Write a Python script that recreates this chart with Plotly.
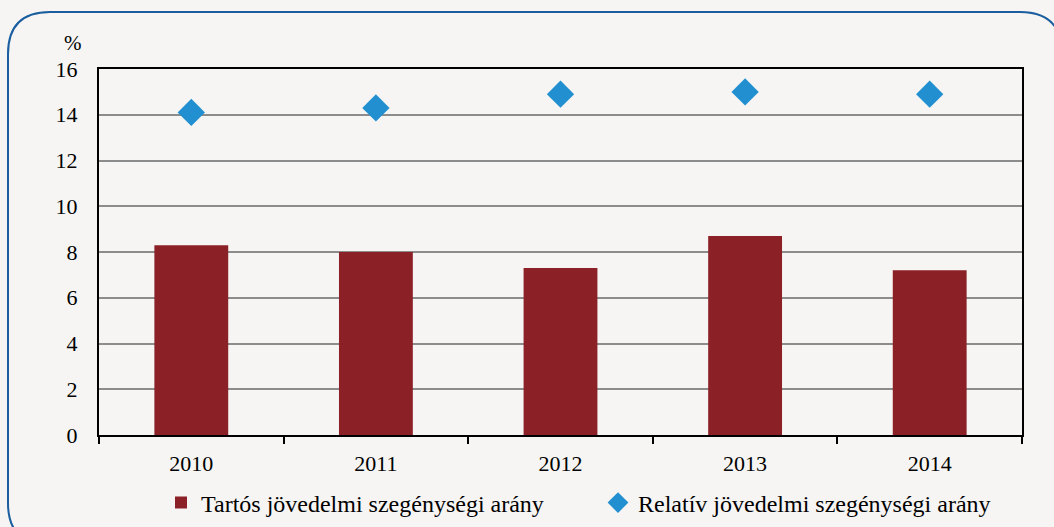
import plotly.graph_objects as go

# données
annees = ["2010", "2011", "2012", "2013", "2014"]
tartos = [8.3, 8.0, 7.3, 8.7, 7.2]
relativ = [14.1, 14.3, 14.9, 15.0, 14.9]
y_ticks = [0, 2, 4, 6, 8, 10, 12, 14, 16]

FOND = "#F6F5F3"
BORDEAUX = "#8B2126"
BLEU = "#2290D0"
POLICE = "Liberation Serif"

W, H = 1054, 527
ML, MR, MT, MB = 99, 32, 69, 92


def px_vers_paper(x, y):
    """Pixels de la page -> coordonnées paper de la zone de tracé."""
    xp = (x - ML) / (W - ML - MR)
    yp = (H - MB - y) / (H - MT - MB)
    return xp, yp


def cadre_arrondi(x0, y0, x1, y1, r):
    pts = [
        ("M", [(x0 + r, y0)]),
        ("L", [(x1 - r, y0)]),
        ("Q", [(x1, y0), (x1, y0 + r)]),
        ("L", [(x1, y1 - r)]),
        ("Q", [(x1, y1), (x1 - r, y1)]),
        ("L", [(x0 + r, y1)]),
        ("Q", [(x0, y1), (x0, y1 - r)]),
        ("L", [(x0, y0 + r)]),
        ("Q", [(x0, y0), (x0 + r, y0)]),
    ]
    morceaux = []
    for cmd, coords in pts:
        txt = " ".join(
            "{:.5f},{:.5f}".format(*px_vers_paper(x, y)) for x, y in coords
        )
        morceaux.append(f"{cmd} {txt}")
    return " ".join(morceaux) + " Z"


fig = go.Figure()

fig.add_trace(
    go.Bar(
        x=annees,
        y=tartos,
        name="Tartós jövedelmi szegénységi arány",
        marker=dict(color=BORDEAUX, line=dict(width=0)),
    )
)
fig.add_trace(
    go.Scatter(
        x=annees,
        y=relativ,
        mode="markers",
        name="Relatív jövedelmi szegénységi arány",
        marker=dict(symbol="diamond", size=21, color=BLEU),
    )
)

fig.add_shape(
    type="path",
    xref="paper",
    yref="paper",
    path=cadre_arrondi(8, 12, 1062, 545, 42),
    line=dict(color="#1A5E9F", width=2),
    layer="below",
)

fig.add_annotation(
    text="%",
    xref="paper",
    yref="paper",
    x=px_vers_paper(73, 0)[0],
    y=px_vers_paper(0, 43)[1],
    xanchor="center",
    yanchor="middle",
    showarrow=False,
    font=dict(family=POLICE, size=21, color="#000000"),
)

fig.update_layout(
    width=W,
    height=H,
    paper_bgcolor=FOND,
    plot_bgcolor=FOND,
    margin=dict(l=ML, r=MR, t=MT, b=MB, autoexpand=False),
    font=dict(family=POLICE, size=22, color="#000000"),
    bargap=0.6,
    showlegend=True,
    legend=dict(
        orientation="h",
        xref="container",
        yref="container",
        x=161 / W,
        xanchor="left",
        y=(H - 503) / H,
        yanchor="middle",
        bgcolor="rgba(0,0,0,0)",
        font=dict(family=POLICE, size=24, color="#000000"),
        itemwidth=30,
        entrywidth=392,
        tracegroupgap=0,
    ),
)

fig.update_xaxes(
    type="category",
    showline=True,
    linecolor="#000000",
    linewidth=2,
    mirror=True,
    ticks="outside",
    tickson="boundaries",
    ticklen=7,
    tickcolor="#000000",
    tickwidth=2,
    ticklabelstandoff=8,
    showgrid=False,
    automargin=False,
    tickfont=dict(family=POLICE, size=22, color="#000000"),
)
fig.update_yaxes(
    range=[0, 16],
    tickvals=y_ticks,
    showline=True,
    linecolor="#000000",
    linewidth=2,
    mirror=True,
    gridcolor="#8C8C8C",
    gridwidth=1.5,
    zeroline=False,
    ticklabelstandoff=15,
    automargin=False,
    tickfont=dict(family=POLICE, size=22, color="#000000"),
)

# la page ajoute une marge de 8 px autour du graphique : on la retire
fig.write_html(
    "out.html",
    config={"displayModeBar": False},
    post_script="document.body.style.margin='0';document.body.style.background='#F6F5F3';",
)
